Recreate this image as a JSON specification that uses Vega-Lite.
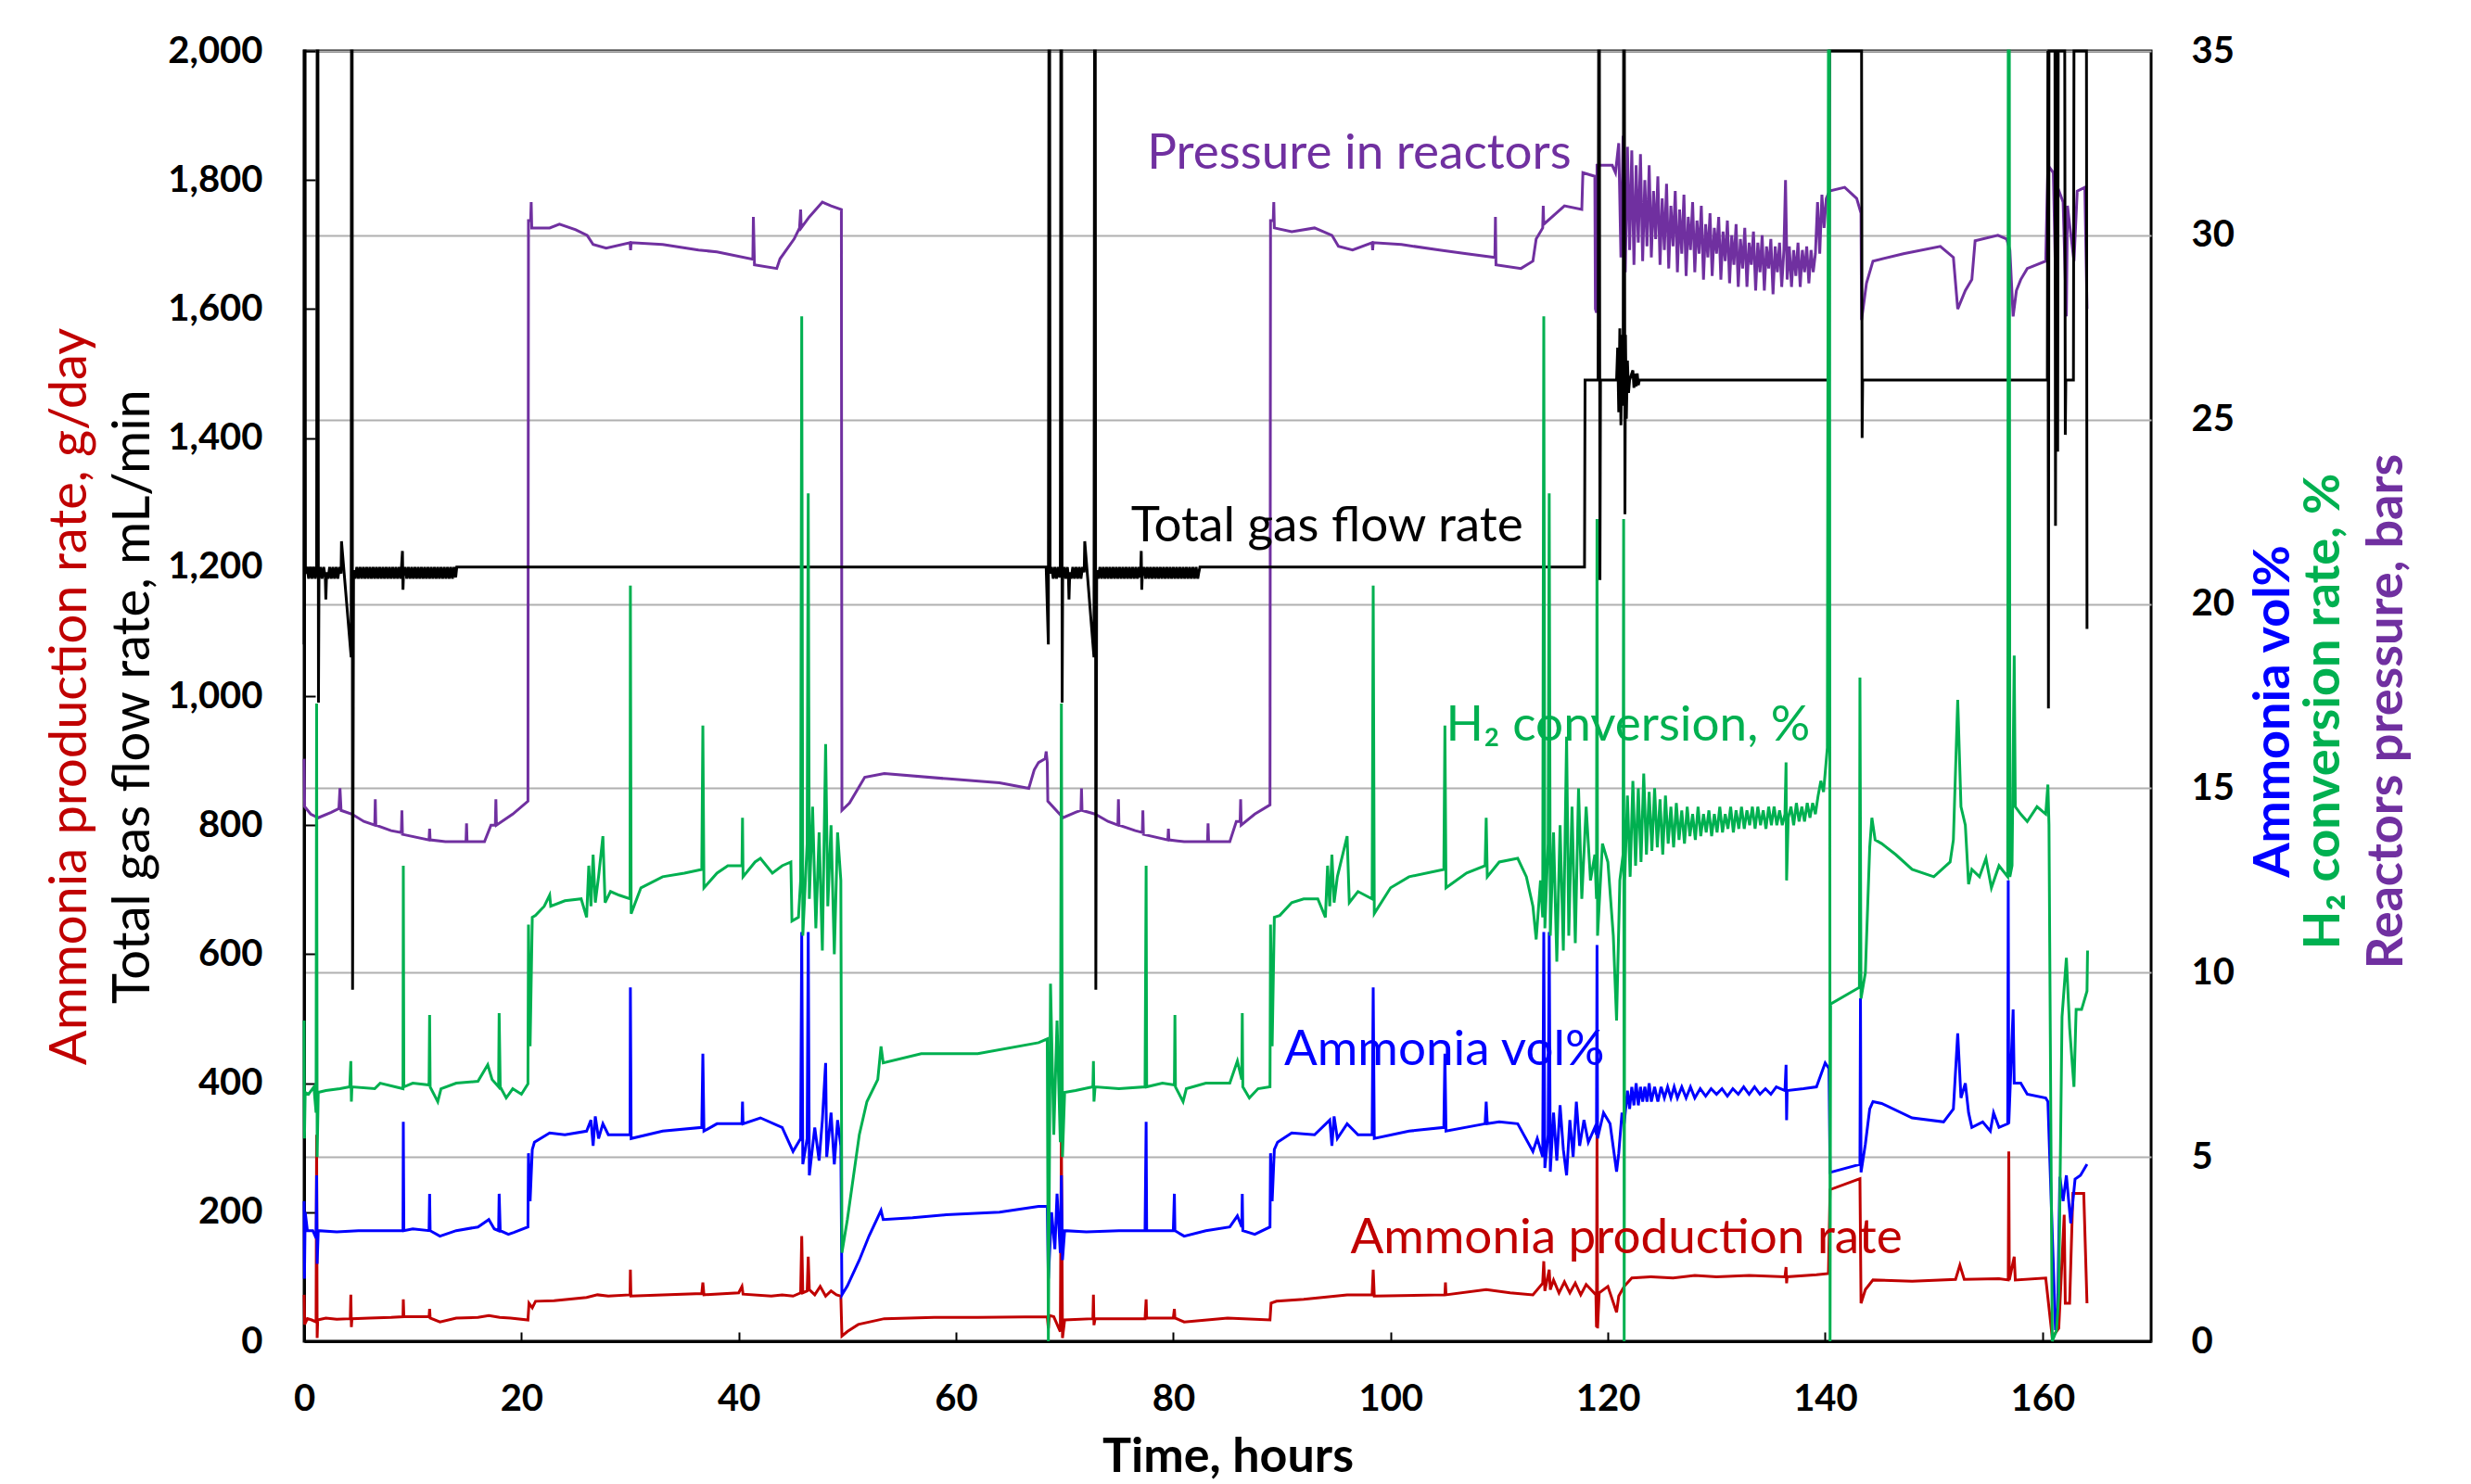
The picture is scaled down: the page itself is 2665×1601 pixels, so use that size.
{
"$schema":"https://vega.github.io/schema/vega-lite/v6.json",
"width":1992,"height":1392,
"autosize":{"type":"none"},
"padding":{"left":328,"top":55,"right":345,"bottom":154},
"background":"white",
"config":{"view":{"stroke":"black","strokeWidth":3},
"axis":{"labelFont":"Lato","labelFontWeight":"bold","labelFontSize":40,"labelColor":"black","labelFlush":false,"titleFont":"Lato","titleFontSize":56,"titleFontWeight":"normal","domainColor":"black","tickColor":"black","grid":false}},
"datasets":{
"flow":[{"t":0,"y":1080},{"t":0.03,"y":2000},{"t":0.09,"y":2000},{"t":0.12,"y":1190},{"t":0.27,"y":1200},{"t":0.42,"y":1182},{"t":0.57,"y":1200},{"t":0.72,"y":1182},{"t":0.87,"y":1200},{"t":1.02,"y":1182},{"t":1.15,"y":1195},{"t":1.2,"y":2000},{"t":1.27,"y":2000},{"t":1.32,"y":990},{"t":1.37,"y":1190},{"t":1.5,"y":1200},{"t":1.65,"y":1182},{"t":1.8,"y":1200},{"t":1.95,"y":1184},{"t":2.0,"y":1150},{"t":2.07,"y":1192},{"t":2.2,"y":1182},{"t":2.35,"y":1200},{"t":2.5,"y":1182},{"t":2.65,"y":1200},{"t":2.8,"y":1182},{"t":2.95,"y":1200},{"t":3.1,"y":1182},{"t":3.25,"y":1200},{"t":3.4,"y":1190},{"t":3.44,"y":1240},{"t":4.33,"y":1060},{"t":4.36,"y":2000},{"t":4.42,"y":2000},{"t":4.46,"y":545},{"t":4.55,"y":1195},{"t":4.7,"y":1182},{"t":4.85,"y":1200},{"t":5.0,"y":1182},{"t":5.15,"y":1200},{"t":5.3,"y":1182},{"t":5.45,"y":1200},{"t":5.6,"y":1182},{"t":5.75,"y":1200},{"t":5.9,"y":1182},{"t":6.05,"y":1200},{"t":6.2,"y":1182},{"t":6.35,"y":1200},{"t":6.5,"y":1182},{"t":6.65,"y":1200},{"t":6.8,"y":1182},{"t":6.95,"y":1200},{"t":7.1,"y":1182},{"t":7.25,"y":1200},{"t":7.4,"y":1182},{"t":7.55,"y":1200},{"t":7.7,"y":1182},{"t":7.85,"y":1200},{"t":8.0,"y":1182},{"t":8.15,"y":1200},{"t":8.3,"y":1182},{"t":8.45,"y":1200},{"t":8.6,"y":1182},{"t":8.75,"y":1200},{"t":8.9,"y":1182},{"t":9.05,"y":1225},{"t":9.1,"y":1165},{"t":9.15,"y":1192},{"t":9.3,"y":1200},{"t":9.45,"y":1182},{"t":9.6,"y":1200},{"t":9.75,"y":1182},{"t":9.9,"y":1200},{"t":10.05,"y":1182},{"t":10.2,"y":1200},{"t":10.35,"y":1182},{"t":10.5,"y":1200},{"t":10.65,"y":1182},{"t":10.8,"y":1200},{"t":10.95,"y":1182},{"t":11.1,"y":1200},{"t":11.25,"y":1182},{"t":11.4,"y":1200},{"t":11.55,"y":1182},{"t":11.7,"y":1200},{"t":11.85,"y":1182},{"t":12.0,"y":1200},{"t":12.15,"y":1182},{"t":12.3,"y":1200},{"t":12.45,"y":1182},{"t":12.6,"y":1200},{"t":12.75,"y":1182},{"t":12.9,"y":1200},{"t":13.05,"y":1182},{"t":13.2,"y":1200},{"t":13.35,"y":1182},{"t":13.5,"y":1200},{"t":13.65,"y":1182},{"t":13.8,"y":1200},{"t":13.95,"y":1184},{"t":14.05,"y":1200},{"t":68.3,"y":1200},{"t":68.5,"y":1080},{"t":68.55,"y":2000},{"t":68.62,"y":2000},{"t":68.66,"y":1190},{"t":68.8,"y":1200},{"t":68.95,"y":1182},{"t":69.1,"y":1200},{"t":69.25,"y":1182},{"t":69.4,"y":1200},{"t":69.55,"y":1184},{"t":69.6,"y":1195},{"t":69.65,"y":2000},{"t":69.72,"y":2000},{"t":69.77,"y":990},{"t":69.82,"y":1190},{"t":69.95,"y":1200},{"t":70.1,"y":1182},{"t":70.25,"y":1200},{"t":70.35,"y":1184},{"t":70.4,"y":1150},{"t":70.47,"y":1192},{"t":70.6,"y":1182},{"t":70.75,"y":1200},{"t":70.9,"y":1182},{"t":71.05,"y":1200},{"t":71.2,"y":1182},{"t":71.35,"y":1200},{"t":71.5,"y":1182},{"t":71.65,"y":1200},{"t":71.8,"y":1192},{"t":71.85,"y":1240},{"t":72.7,"y":1060},{"t":72.75,"y":2000},{"t":72.82,"y":2000},{"t":72.87,"y":545},{"t":72.95,"y":1195},{"t":73.1,"y":1182},{"t":73.25,"y":1200},{"t":73.4,"y":1182},{"t":73.55,"y":1200},{"t":73.7,"y":1182},{"t":73.85,"y":1200},{"t":74.0,"y":1182},{"t":74.15,"y":1200},{"t":74.3,"y":1182},{"t":74.45,"y":1200},{"t":74.6,"y":1182},{"t":74.75,"y":1200},{"t":74.9,"y":1182},{"t":75.05,"y":1200},{"t":75.2,"y":1182},{"t":75.35,"y":1200},{"t":75.5,"y":1182},{"t":75.65,"y":1200},{"t":75.8,"y":1182},{"t":75.95,"y":1200},{"t":76.1,"y":1182},{"t":76.25,"y":1200},{"t":76.4,"y":1182},{"t":76.55,"y":1200},{"t":76.7,"y":1182},{"t":76.85,"y":1200},{"t":76.98,"y":1184},{"t":77.05,"y":1225},{"t":77.1,"y":1165},{"t":77.15,"y":1192},{"t":77.3,"y":1200},{"t":77.45,"y":1182},{"t":77.6,"y":1200},{"t":77.75,"y":1182},{"t":77.9,"y":1200},{"t":78.05,"y":1182},{"t":78.2,"y":1200},{"t":78.35,"y":1182},{"t":78.5,"y":1200},{"t":78.65,"y":1182},{"t":78.8,"y":1200},{"t":78.95,"y":1182},{"t":79.1,"y":1200},{"t":79.25,"y":1182},{"t":79.4,"y":1200},{"t":79.55,"y":1182},{"t":79.7,"y":1200},{"t":79.85,"y":1182},{"t":80.0,"y":1200},{"t":80.15,"y":1182},{"t":80.3,"y":1200},{"t":80.45,"y":1182},{"t":80.6,"y":1200},{"t":80.75,"y":1182},{"t":80.9,"y":1200},{"t":81.05,"y":1182},{"t":81.2,"y":1200},{"t":81.35,"y":1182},{"t":81.5,"y":1200},{"t":81.65,"y":1182},{"t":81.8,"y":1200},{"t":81.95,"y":1182},{"t":82.1,"y":1200},{"t":82.25,"y":1182},{"t":82.35,"y":1192},{"t":82.45,"y":1200},{"t":117.85,"y":1200},{"t":117.9,"y":1490},{"t":119.1,"y":1490},{"t":119.15,"y":2000},{"t":119.22,"y":2000},{"t":119.27,"y":1180},{"t":119.32,"y":1490},{"t":120.8,"y":1490},{"t":120.9,"y":1540},{"t":121.0,"y":1440},{"t":121.1,"y":1570},{"t":121.2,"y":1420},{"t":121.3,"y":1560},{"t":121.4,"y":1450},{"t":121.45,"y":2000},{"t":121.52,"y":2000},{"t":121.57,"y":1282},{"t":121.62,"y":1560},{"t":121.7,"y":1430},{"t":121.8,"y":1520},{"t":121.9,"y":1470},{"t":122.0,"y":1490},{"t":122.3,"y":1505},{"t":122.4,"y":1478},{"t":122.5,"y":1500},{"t":122.6,"y":1480},{"t":122.7,"y":1500},{"t":122.8,"y":1482},{"t":122.9,"y":1490},{"t":140.35,"y":1490},{"t":140.4,"y":2000},{"t":143.35,"y":2000},{"t":143.4,"y":1400},{"t":143.45,"y":1490},{"t":160.45,"y":1490},{"t":160.5,"y":2000},{"t":160.55,"y":981},{"t":160.6,"y":2000},{"t":161.15,"y":2000},{"t":161.2,"y":1264},{"t":161.25,"y":2000},{"t":161.35,"y":2000},{"t":161.4,"y":1379},{"t":161.45,"y":2000},{"t":162.05,"y":2000},{"t":162.1,"y":1405},{"t":162.15,"y":1490},{"t":162.85,"y":1490},{"t":162.9,"y":2000},{"t":164.05,"y":2000},{"t":164.1,"y":1104}],
"prod":[{"t":0,"y":72},{"t":0.05,"y":26},{"t":0.3,"y":35},{"t":0.7,"y":33},{"t":1.1,"y":30},{"t":1.15,"y":320},{"t":1.2,"y":5},{"t":1.25,"y":33},{"t":2,"y":36},{"t":3,"y":34},{"t":4.25,"y":35},{"t":4.3,"y":72},{"t":4.35,"y":22},{"t":4.4,"y":35},{"t":6,"y":36},{"t":8,"y":37},{"t":9.1,"y":38},{"t":9.13,"y":65},{"t":9.18,"y":38},{"t":11.5,"y":38},{"t":11.55,"y":50},{"t":11.6,"y":36},{"t":12.5,"y":30},{"t":14,"y":36},{"t":16,"y":37},{"t":17,"y":40},{"t":18,"y":37},{"t":19,"y":36},{"t":20.6,"y":33},{"t":20.7,"y":59},{"t":21,"y":52},{"t":21.3,"y":62},{"t":23,"y":63},{"t":26,"y":68},{"t":27,"y":72},{"t":28,"y":70},{"t":30,"y":72},{"t":30.03,"y":111},{"t":30.08,"y":70},{"t":33,"y":72},{"t":36.6,"y":74},{"t":36.7,"y":91},{"t":36.8,"y":72},{"t":40,"y":75},{"t":40.3,"y":85},{"t":40.4,"y":73},{"t":43,"y":70},{"t":44,"y":72},{"t":45,"y":70},{"t":45.7,"y":75},{"t":45.8,"y":163},{"t":45.9,"y":75},{"t":46.3,"y":78},{"t":46.4,"y":131},{"t":46.5,"y":80},{"t":47,"y":72},{"t":47.5,"y":85},{"t":48,"y":70},{"t":48.5,"y":78},{"t":49,"y":72},{"t":49.4,"y":70},{"t":49.5,"y":8},{"t":50,"y":15},{"t":51,"y":26},{"t":53.4,"y":35},{"t":58,"y":37},{"t":62,"y":37},{"t":68.4,"y":38},{"t":68.5,"y":20},{"t":68.6,"y":40},{"t":69,"y":38},{"t":69.6,"y":15},{"t":69.7,"y":320},{"t":69.8,"y":5},{"t":70,"y":33},{"t":72.6,"y":35},{"t":72.65,"y":72},{"t":72.7,"y":25},{"t":72.8,"y":35},{"t":77.4,"y":35},{"t":77.5,"y":65},{"t":77.55,"y":36},{"t":80,"y":36},{"t":80.1,"y":50},{"t":80.15,"y":36},{"t":81,"y":30},{"t":85,"y":36},{"t":88.9,"y":33},{"t":89.0,"y":59},{"t":89.5,"y":62},{"t":92,"y":65},{"t":96,"y":72},{"t":98.3,"y":72},{"t":98.4,"y":111},{"t":98.5,"y":70},{"t":105,"y":72},{"t":105.05,"y":91},{"t":105.1,"y":72},{"t":108.8,"y":80},{"t":111,"y":75},{"t":113.1,"y":72},{"t":114,"y":90},{"t":114.1,"y":124},{"t":114.2,"y":78},{"t":114.6,"y":111},{"t":114.7,"y":80},{"t":115,"y":95},{"t":115.5,"y":75},{"t":116,"y":92},{"t":116.5,"y":75},{"t":117,"y":90},{"t":117.5,"y":72},{"t":118,"y":88},{"t":118.9,"y":72},{"t":118.95,"y":22},{"t":119.0,"y":320},{"t":119.05,"y":20},{"t":119.2,"y":75},{"t":120,"y":85},{"t":120.8,"y":45},{"t":121,"y":70},{"t":121.5,"y":85},{"t":122.2,"y":98},{"t":124,"y":100},{"t":126,"y":98},{"t":128,"y":102},{"t":130,"y":100},{"t":133,"y":102},{"t":136.3,"y":100},{"t":136.4,"y":115},{"t":136.45,"y":90},{"t":136.5,"y":100},{"t":139.2,"y":103},{"t":140.3,"y":105},{"t":140.45,"y":235},{"t":143.2,"y":252},{"t":143.3,"y":59},{"t":143.7,"y":80},{"t":144.4,"y":95},{"t":148,"y":93},{"t":152,"y":96},{"t":152.4,"y":118},{"t":152.8,"y":96},{"t":156,"y":97},{"t":156.85,"y":95},{"t":156.9,"y":294},{"t":156.95,"y":95},{"t":157.4,"y":131},{"t":157.5,"y":95},{"t":160.3,"y":98},{"t":160.9,"y":6},{"t":161.5,"y":20},{"t":162,"y":196},{"t":162.1,"y":59},{"t":162.5,"y":59},{"t":162.8,"y":229},{"t":163.8,"y":229},{"t":164.1,"y":59}],
"vol":[{"t":0,"y":3.8},{"t":0.03,"y":1.7},{"t":0.1,"y":3.5},{"t":0.3,"y":3.0},{"t":0.8,"y":3.0},{"t":1.1,"y":2.8},{"t":1.15,"y":4.5},{"t":1.2,"y":2.1},{"t":1.3,"y":3.0},{"t":3,"y":2.97},{"t":5,"y":3.0},{"t":7,"y":3.0},{"t":9.1,"y":3.0},{"t":9.13,"y":5.95},{"t":9.18,"y":3.0},{"t":10,"y":3.05},{"t":11.5,"y":3.0},{"t":11.55,"y":4.0},{"t":11.6,"y":3.0},{"t":12.5,"y":2.85},{"t":14,"y":3.0},{"t":16,"y":3.1},{"t":17,"y":3.3},{"t":17.5,"y":3.05},{"t":17.9,"y":3.0},{"t":17.95,"y":4.0},{"t":18.05,"y":3.0},{"t":18.8,"y":2.9},{"t":19.3,"y":2.95},{"t":20.6,"y":3.1},{"t":20.65,"y":5.1},{"t":20.8,"y":3.8},{"t":21,"y":5.2},{"t":21.2,"y":5.4},{"t":22.6,"y":5.65},{"t":24,"y":5.6},{"t":26,"y":5.7},{"t":26.4,"y":6.0},{"t":26.6,"y":5.3},{"t":26.8,"y":6.1},{"t":27.1,"y":5.5},{"t":27.5,"y":5.9},{"t":28,"y":5.6},{"t":30,"y":5.6},{"t":30.03,"y":9.6},{"t":30.1,"y":5.5},{"t":33,"y":5.7},{"t":36.6,"y":5.8},{"t":36.7,"y":7.8},{"t":36.8,"y":5.7},{"t":38,"y":5.9},{"t":40.3,"y":5.9},{"t":40.35,"y":6.5},{"t":40.4,"y":5.9},{"t":42,"y":6.06},{"t":44,"y":5.8},{"t":45,"y":5.15},{"t":45.7,"y":5.5},{"t":45.8,"y":11.1},{"t":45.9,"y":4.8},{"t":46.3,"y":5.5},{"t":46.4,"y":11.1},{"t":46.5,"y":4.5},{"t":47,"y":5.8},{"t":47.4,"y":4.9},{"t":47.7,"y":6.0},{"t":48,"y":7.55},{"t":48.1,"y":5.0},{"t":48.5,"y":6.2},{"t":48.8,"y":4.8},{"t":49.1,"y":6.0},{"t":49.4,"y":5.3},{"t":49.5,"y":1.26},{"t":50,"y":1.5},{"t":51.1,"y":2.2},{"t":52,"y":2.86},{"t":53.1,"y":3.55},{"t":53.3,"y":3.3},{"t":56,"y":3.35},{"t":59.1,"y":3.43},{"t":64,"y":3.5},{"t":67.6,"y":3.66},{"t":68.4,"y":3.66},{"t":68.5,"y":1.7},{"t":68.8,"y":3.5},{"t":69.1,"y":2.5},{"t":69.3,"y":4.0},{"t":69.6,"y":2.4},{"t":69.7,"y":4.5},{"t":69.8,"y":2.2},{"t":70,"y":3.0},{"t":72,"y":2.97},{"t":75,"y":3.0},{"t":77.4,"y":3.0},{"t":77.5,"y":5.95},{"t":77.55,"y":3.0},{"t":80,"y":3.0},{"t":80.1,"y":4.0},{"t":80.15,"y":3.0},{"t":81,"y":2.85},{"t":83,"y":3.0},{"t":85.2,"y":3.1},{"t":85.9,"y":3.4},{"t":86.3,"y":3.1},{"t":86.35,"y":4.0},{"t":86.4,"y":3.0},{"t":87.5,"y":2.9},{"t":88.9,"y":3.1},{"t":88.95,"y":5.1},{"t":89.1,"y":3.8},{"t":89.3,"y":5.2},{"t":89.6,"y":5.4},{"t":90.9,"y":5.65},{"t":93,"y":5.6},{"t":94.4,"y":6.0},{"t":94.6,"y":5.3},{"t":94.8,"y":6.1},{"t":95.1,"y":5.5},{"t":96,"y":5.9},{"t":97,"y":5.6},{"t":98.3,"y":5.6},{"t":98.4,"y":9.6},{"t":98.5,"y":5.5},{"t":101.7,"y":5.7},{"t":104.9,"y":5.8},{"t":105,"y":7.8},{"t":105.1,"y":5.7},{"t":108.7,"y":5.9},{"t":108.8,"y":6.5},{"t":108.9,"y":5.9},{"t":110,"y":5.95},{"t":111.7,"y":5.9},{"t":113.1,"y":5.15},{"t":113.5,"y":5.5},{"t":114.0,"y":5.0},{"t":114.1,"y":11.1},{"t":114.2,"y":4.7},{"t":114.5,"y":5.6},{"t":114.6,"y":11.1},{"t":114.7,"y":4.6},{"t":115,"y":6.2},{"t":115.3,"y":4.9},{"t":115.6,"y":6.4},{"t":115.9,"y":5.2},{"t":116.2,"y":4.5},{"t":116.5,"y":6.0},{"t":116.8,"y":5.0},{"t":117.1,"y":6.5},{"t":117.4,"y":5.3},{"t":117.8,"y":6.0},{"t":118.2,"y":5.4},{"t":118.8,"y":5.8},{"t":118.95,"y":5.6},{"t":119.0,"y":10.75},{"t":119.05,"y":5.5},{"t":119.6,"y":6.2},{"t":120.2,"y":5.9},{"t":120.8,"y":4.6},{"t":121.0,"y":5.1},{"t":121.3,"y":6.2},{"t":121.5,"y":5.9},{"t":121.8,"y":6.8},{"t":122.0,"y":6.3},{"t":122.2,"y":6.9},{"t":122.4,"y":6.4},{"t":122.6,"y":7.0},{"t":122.8,"y":6.4},{"t":123.0,"y":6.9},{"t":123.2,"y":6.5},{"t":123.4,"y":6.9},{"t":123.6,"y":6.5},{"t":123.8,"y":7.0},{"t":124.0,"y":6.5},{"t":124.3,"y":6.9},{"t":124.6,"y":6.5},{"t":124.9,"y":6.9},{"t":125.2,"y":6.6},{"t":125.5,"y":6.9},{"t":125.8,"y":6.6},{"t":126.1,"y":6.9},{"t":126.4,"y":6.6},{"t":126.8,"y":6.9},{"t":127.2,"y":6.6},{"t":127.6,"y":6.9},{"t":128.0,"y":6.6},{"t":128.5,"y":6.85},{"t":129,"y":6.65},{"t":129.5,"y":6.85},{"t":130,"y":6.7},{"t":130.5,"y":6.85},{"t":131,"y":6.65},{"t":131.5,"y":6.85},{"t":132,"y":6.7},{"t":132.5,"y":6.9},{"t":133,"y":6.7},{"t":133.5,"y":6.9},{"t":134,"y":6.7},{"t":134.5,"y":6.85},{"t":135,"y":6.7},{"t":135.5,"y":6.9},{"t":136.3,"y":6.8},{"t":136.4,"y":7.5},{"t":136.45,"y":6.0},{"t":136.5,"y":6.8},{"t":138,"y":6.85},{"t":139.2,"y":6.9},{"t":140,"y":7.55},{"t":140.35,"y":7.4},{"t":140.45,"y":4.58},{"t":143.2,"y":4.8},{"t":143.25,"y":9.3},{"t":143.3,"y":4.58},{"t":143.7,"y":5.35},{"t":144.1,"y":6.3},{"t":144.4,"y":6.5},{"t":145.2,"y":6.45},{"t":148,"y":6.06},{"t":150.9,"y":5.95},{"t":151.8,"y":6.3},{"t":152.2,"y":8.35},{"t":152.5,"y":6.6},{"t":152.9,"y":7.0},{"t":153.2,"y":6.2},{"t":153.5,"y":5.8},{"t":154.5,"y":5.95},{"t":155.2,"y":5.7},{"t":155.5,"y":6.2},{"t":156,"y":5.8},{"t":156.8,"y":5.9},{"t":156.85,"y":12.5},{"t":156.9,"y":5.9},{"t":157.3,"y":9.0},{"t":157.4,"y":7.0},{"t":158,"y":7.0},{"t":158.6,"y":6.7},{"t":160.3,"y":6.6},{"t":160.5,"y":6.5},{"t":161.2,"y":0.3},{"t":161.4,"y":0.9},{"t":161.6,"y":4.46},{"t":161.9,"y":3.8},{"t":162.2,"y":4.5},{"t":162.6,"y":3.2},{"t":163,"y":4.4},{"t":163.5,"y":4.5},{"t":164.1,"y":4.8}],
"conv":[{"t":0,"y":8.7},{"t":0.03,"y":5.5},{"t":0.1,"y":6.75},{"t":0.4,"y":6.7},{"t":0.9,"y":6.9},{"t":1.1,"y":6.2},{"t":1.15,"y":17.3},{"t":1.2,"y":5.0},{"t":1.3,"y":6.75},{"t":2,"y":6.8},{"t":3.3,"y":6.85},{"t":4.2,"y":6.9},{"t":4.3,"y":7.6},{"t":4.35,"y":6.5},{"t":4.4,"y":6.9},{"t":6.5,"y":6.85},{"t":7,"y":7.0},{"t":9.1,"y":6.85},{"t":9.13,"y":12.9},{"t":9.18,"y":6.9},{"t":10,"y":7.0},{"t":11.5,"y":6.95},{"t":11.55,"y":8.85},{"t":11.6,"y":6.9},{"t":12.3,"y":6.5},{"t":12.6,"y":6.85},{"t":14,"y":7.0},{"t":16,"y":7.05},{"t":16.9,"y":7.5},{"t":17.3,"y":7.1},{"t":17.9,"y":6.9},{"t":17.95,"y":8.9},{"t":18.05,"y":6.9},{"t":18.6,"y":6.6},{"t":19.2,"y":6.85},{"t":20.0,"y":6.7},{"t":20.6,"y":6.98},{"t":20.65,"y":11.3},{"t":20.8,"y":8.0},{"t":21.0,"y":11.5},{"t":21.3,"y":11.55},{"t":22.1,"y":11.8},{"t":22.6,"y":12.1},{"t":22.7,"y":11.8},{"t":24,"y":11.95},{"t":25.5,"y":12.0},{"t":26.0,"y":11.5},{"t":26.2,"y":12.9},{"t":26.4,"y":11.8},{"t":26.6,"y":13.2},{"t":26.8,"y":11.9},{"t":27.1,"y":12.6},{"t":27.5,"y":13.7},{"t":27.7,"y":11.9},{"t":28.2,"y":12.2},{"t":29,"y":12.1},{"t":30,"y":12.0},{"t":30.03,"y":20.5},{"t":30.1,"y":11.6},{"t":31,"y":12.3},{"t":33,"y":12.6},{"t":35,"y":12.7},{"t":36.6,"y":12.8},{"t":36.7,"y":16.7},{"t":36.8,"y":12.3},{"t":38,"y":12.7},{"t":39,"y":12.9},{"t":40.3,"y":12.9},{"t":40.35,"y":14.2},{"t":40.4,"y":12.6},{"t":41.5,"y":13.0},{"t":42,"y":13.1},{"t":43.1,"y":12.7},{"t":44.0,"y":12.9},{"t":44.8,"y":13.0},{"t":44.9,"y":11.4},{"t":45.5,"y":11.5},{"t":45.7,"y":12.5},{"t":45.8,"y":27.8},{"t":45.9,"y":11.0},{"t":46.3,"y":13.5},{"t":46.4,"y":23.0},{"t":46.5,"y":12.0},{"t":46.8,"y":14.5},{"t":47.1,"y":11.2},{"t":47.4,"y":13.8},{"t":47.7,"y":10.6},{"t":48.0,"y":16.2},{"t":48.2,"y":11.8},{"t":48.5,"y":14.0},{"t":48.8,"y":10.5},{"t":49.1,"y":13.8},{"t":49.4,"y":12.5},{"t":49.5,"y":2.4},{"t":50.0,"y":3.3},{"t":51.1,"y":5.6},{"t":51.8,"y":6.5},{"t":52.8,"y":7.1},{"t":53.1,"y":8.0},{"t":53.3,"y":7.55},{"t":56.8,"y":7.8},{"t":62,"y":7.8},{"t":67.6,"y":8.1},{"t":68.4,"y":8.2},{"t":68.5,"y":0.0},{"t":68.7,"y":9.7},{"t":69.0,"y":5.6},{"t":69.3,"y":8.7},{"t":69.6,"y":5.4},{"t":69.7,"y":17.3},{"t":69.8,"y":5.0},{"t":70,"y":6.75},{"t":71,"y":6.8},{"t":72.6,"y":6.9},{"t":72.65,"y":7.6},{"t":72.7,"y":6.5},{"t":72.8,"y":6.9},{"t":75,"y":6.85},{"t":77.4,"y":6.9},{"t":77.5,"y":12.9},{"t":77.55,"y":6.9},{"t":79,"y":7.0},{"t":80.1,"y":6.95},{"t":80.15,"y":8.85},{"t":80.2,"y":6.9},{"t":80.9,"y":6.5},{"t":81.2,"y":6.85},{"t":83,"y":7.0},{"t":85.2,"y":7.0},{"t":85.9,"y":7.6},{"t":86.3,"y":7.1},{"t":86.35,"y":8.9},{"t":86.4,"y":6.9},{"t":87,"y":6.6},{"t":87.8,"y":6.85},{"t":88.9,"y":6.9},{"t":88.95,"y":11.3},{"t":89.1,"y":8.0},{"t":89.3,"y":11.5},{"t":89.8,"y":11.55},{"t":90.9,"y":11.9},{"t":92,"y":12.0},{"t":93.3,"y":12.0},{"t":94.0,"y":11.5},{"t":94.2,"y":12.9},{"t":94.4,"y":11.8},{"t":94.6,"y":13.2},{"t":94.8,"y":11.9},{"t":95.1,"y":12.6},{"t":96,"y":13.7},{"t":96.2,"y":11.9},{"t":97,"y":12.2},{"t":98.3,"y":12.0},{"t":98.4,"y":20.5},{"t":98.5,"y":11.6},{"t":100,"y":12.3},{"t":101.7,"y":12.6},{"t":104.9,"y":12.8},{"t":105,"y":16.7},{"t":105.1,"y":12.3},{"t":107,"y":12.7},{"t":108.7,"y":12.9},{"t":108.8,"y":14.2},{"t":108.9,"y":12.6},{"t":110,"y":13.0},{"t":111.7,"y":13.1},{"t":112.5,"y":12.6},{"t":113.1,"y":11.8},{"t":113.4,"y":10.9},{"t":113.8,"y":12.5},{"t":114.0,"y":11.5},{"t":114.1,"y":27.8},{"t":114.2,"y":11.2},{"t":114.5,"y":13.5},{"t":114.6,"y":23.0},{"t":114.7,"y":11.0},{"t":115,"y":13.8},{"t":115.3,"y":10.3},{"t":115.6,"y":14.0},{"t":115.9,"y":10.6},{"t":116.2,"y":16.4},{"t":116.4,"y":11.0},{"t":116.7,"y":14.5},{"t":117.0,"y":10.8},{"t":117.3,"y":15.0},{"t":117.6,"y":12.0},{"t":118.0,"y":14.5},{"t":118.4,"y":12.5},{"t":118.8,"y":13.2},{"t":118.95,"y":12.0},{"t":119.0,"y":22.3},{"t":119.05,"y":11.0},{"t":119.5,"y":13.5},{"t":120,"y":13.0},{"t":120.5,"y":11.0},{"t":120.8,"y":8.7},{"t":121.1,"y":12.5},{"t":121.4,"y":13.2},{"t":121.45,"y":22.3},{"t":121.5,"y":0.0},{"t":121.55,"y":12.5},{"t":121.8,"y":14.8},{"t":122.05,"y":12.6},{"t":122.3,"y":15.2},{"t":122.55,"y":12.9},{"t":122.8,"y":15.0},{"t":123.05,"y":13.0},{"t":123.3,"y":15.4},{"t":123.55,"y":13.2},{"t":123.8,"y":14.9},{"t":124.05,"y":13.3},{"t":124.3,"y":15.0},{"t":124.55,"y":13.4},{"t":124.8,"y":14.7},{"t":125.05,"y":13.2},{"t":125.3,"y":14.8},{"t":125.55,"y":13.5},{"t":125.8,"y":14.5},{"t":126.05,"y":13.4},{"t":126.3,"y":14.6},{"t":126.55,"y":13.6},{"t":126.8,"y":14.4},{"t":127.05,"y":13.5},{"t":127.3,"y":14.5},{"t":127.55,"y":13.7},{"t":127.8,"y":14.3},{"t":128.05,"y":13.6},{"t":128.3,"y":14.5},{"t":128.55,"y":13.7},{"t":128.8,"y":14.3},{"t":129.05,"y":13.8},{"t":129.3,"y":14.4},{"t":129.55,"y":13.7},{"t":129.8,"y":14.3},{"t":130.05,"y":13.8},{"t":130.3,"y":14.5},{"t":130.55,"y":13.8},{"t":130.8,"y":14.3},{"t":131.05,"y":13.9},{"t":131.3,"y":14.5},{"t":131.55,"y":13.8},{"t":131.8,"y":14.4},{"t":132.05,"y":13.9},{"t":132.3,"y":14.5},{"t":132.55,"y":13.9},{"t":132.8,"y":14.4},{"t":133.05,"y":14.0},{"t":133.3,"y":14.5},{"t":133.55,"y":13.9},{"t":133.8,"y":14.5},{"t":134.05,"y":14.0},{"t":134.3,"y":14.4},{"t":134.55,"y":13.9},{"t":134.8,"y":14.5},{"t":135.05,"y":14.0},{"t":135.3,"y":14.5},{"t":135.55,"y":14.0},{"t":135.8,"y":14.4},{"t":136.05,"y":14.0},{"t":136.3,"y":14.3},{"t":136.4,"y":15.7},{"t":136.45,"y":12.5},{"t":136.6,"y":14.2},{"t":136.85,"y":14.5},{"t":137.1,"y":14.0},{"t":137.35,"y":14.6},{"t":137.6,"y":14.1},{"t":137.85,"y":14.5},{"t":138.1,"y":14.1},{"t":138.35,"y":14.6},{"t":138.6,"y":14.2},{"t":138.85,"y":14.6},{"t":139.1,"y":14.3},{"t":139.35,"y":14.8},{"t":139.6,"y":15.2},{"t":139.85,"y":14.9},{"t":140.2,"y":16.1},{"t":140.3,"y":35},{"t":140.4,"y":35},{"t":140.45,"y":0},{"t":140.5,"y":9.15},{"t":143.15,"y":9.6},{"t":143.2,"y":18.0},{"t":143.3,"y":9.3},{"t":143.7,"y":10.0},{"t":144.1,"y":13.4},{"t":144.3,"y":14.2},{"t":144.6,"y":13.6},{"t":145.2,"y":13.5},{"t":146.5,"y":13.2},{"t":148,"y":12.8},{"t":150,"y":12.6},{"t":151.5,"y":13.0},{"t":151.8,"y":13.6},{"t":152.2,"y":17.4},{"t":152.5,"y":14.5},{"t":152.9,"y":14.0},{"t":153.2,"y":12.4},{"t":153.5,"y":12.8},{"t":154.2,"y":12.6},{"t":154.8,"y":13.1},{"t":155.3,"y":12.3},{"t":156,"y":12.9},{"t":156.8,"y":12.6},{"t":156.85,"y":35},{"t":156.95,"y":35},{"t":157.0,"y":12.6},{"t":157.2,"y":12.9},{"t":157.4,"y":18.6},{"t":157.5,"y":14.5},{"t":158,"y":14.3},{"t":158.6,"y":14.1},{"t":159.5,"y":14.5},{"t":160.3,"y":14.3},{"t":160.5,"y":15.1},{"t":160.6,"y":14.0},{"t":160.9,"y":0.0},{"t":161.3,"y":0.3},{"t":161.5,"y":1.26},{"t":161.8,"y":8.8},{"t":162.2,"y":10.4},{"t":162.5,"y":8.5},{"t":162.9,"y":6.9},{"t":163.1,"y":9.0},{"t":163.6,"y":9.0},{"t":164.1,"y":9.5},{"t":164.15,"y":10.6}],
"pres":[{"t":0,"y":15.8},{"t":0.05,"y":14.5},{"t":0.6,"y":14.3},{"t":1.3,"y":14.2},{"t":2.5,"y":14.35},{"t":3.2,"y":14.45},{"t":3.3,"y":15.0},{"t":3.4,"y":14.4},{"t":4.4,"y":14.3},{"t":5.5,"y":14.1},{"t":6.5,"y":14.0},{"t":6.55,"y":14.7},{"t":6.6,"y":14.0},{"t":8,"y":13.85},{"t":8.95,"y":13.8},{"t":9.0,"y":14.4},{"t":9.05,"y":13.75},{"t":11.5,"y":13.6},{"t":11.55,"y":13.9},{"t":11.6,"y":13.6},{"t":13,"y":13.55},{"t":14.9,"y":13.55},{"t":14.95,"y":14.05},{"t":15.0,"y":13.55},{"t":16.6,"y":13.55},{"t":17.2,"y":14.0},{"t":17.6,"y":14.0},{"t":17.65,"y":14.7},{"t":17.7,"y":14.0},{"t":19.2,"y":14.3},{"t":20.6,"y":14.65},{"t":20.65,"y":30.4},{"t":20.85,"y":30.4},{"t":20.9,"y":30.9},{"t":20.95,"y":30.2},{"t":22.6,"y":30.2},{"t":23.5,"y":30.3},{"t":25,"y":30.15},{"t":26.05,"y":30.0},{"t":26.6,"y":29.75},{"t":27.8,"y":29.65},{"t":30.0,"y":29.8},{"t":30.05,"y":29.6},{"t":30.1,"y":29.8},{"t":33,"y":29.75},{"t":36.3,"y":29.6},{"t":38,"y":29.55},{"t":41.3,"y":29.35},{"t":41.35,"y":30.5},{"t":41.45,"y":29.2},{"t":43.5,"y":29.1},{"t":43.8,"y":29.36},{"t":45.1,"y":29.9},{"t":45.6,"y":30.2},{"t":45.7,"y":30.7},{"t":45.75,"y":30.2},{"t":46.5,"y":30.5},{"t":47.7,"y":30.9},{"t":48.5,"y":30.8},{"t":49.45,"y":30.7},{"t":49.5,"y":14.4},{"t":50.2,"y":14.6},{"t":51.6,"y":15.3},{"t":53.4,"y":15.4},{"t":59.1,"y":15.26},{"t":64,"y":15.15},{"t":66.7,"y":15.0},{"t":67.2,"y":15.5},{"t":67.6,"y":15.7},{"t":68.2,"y":15.8},{"t":68.3,"y":16.0},{"t":68.4,"y":15.7},{"t":68.45,"y":14.65},{"t":69.85,"y":14.2},{"t":71.0,"y":14.35},{"t":71.5,"y":14.4},{"t":71.55,"y":15.0},{"t":71.6,"y":14.4},{"t":72.8,"y":14.3},{"t":74,"y":14.1},{"t":74.9,"y":14.0},{"t":74.95,"y":14.7},{"t":75.0,"y":14.0},{"t":76.5,"y":13.85},{"t":77.15,"y":13.8},{"t":77.2,"y":14.4},{"t":77.25,"y":13.75},{"t":79.5,"y":13.6},{"t":79.55,"y":13.9},{"t":79.6,"y":13.6},{"t":81,"y":13.55},{"t":83.15,"y":13.55},{"t":83.2,"y":14.05},{"t":83.25,"y":13.55},{"t":85.2,"y":13.55},{"t":85.8,"y":14.1},{"t":86.15,"y":14.1},{"t":86.2,"y":14.7},{"t":86.25,"y":14.0},{"t":87.5,"y":14.3},{"t":88.9,"y":14.55},{"t":88.95,"y":30.4},{"t":89.2,"y":30.4},{"t":89.25,"y":30.9},{"t":89.3,"y":30.2},{"t":90.9,"y":30.1},{"t":93,"y":30.2},{"t":94.6,"y":30.0},{"t":95.2,"y":29.7},{"t":96.5,"y":29.6},{"t":98.3,"y":29.8},{"t":98.35,"y":29.6},{"t":98.4,"y":29.8},{"t":101,"y":29.75},{"t":104.5,"y":29.6},{"t":107,"y":29.5},{"t":109.6,"y":29.4},{"t":109.65,"y":30.5},{"t":109.7,"y":29.2},{"t":112,"y":29.1},{"t":113.1,"y":29.3},{"t":113.4,"y":29.9},{"t":114.0,"y":30.2},{"t":114.05,"y":30.8},{"t":114.1,"y":30.3},{"t":116,"y":30.8},{"t":117.6,"y":30.7},{"t":117.7,"y":31.7},{"t":118.8,"y":31.6},{"t":118.85,"y":28.0},{"t":118.95,"y":27.9},{"t":119.0,"y":31.9},{"t":119.5,"y":31.9},{"t":120.4,"y":31.9},{"t":120.7,"y":31.7},{"t":121.0,"y":32.5},{"t":121.2,"y":29.4},{"t":121.4,"y":32.7},{"t":121.6,"y":29.0},{"t":121.8,"y":32.4},{"t":122.0,"y":29.6},{"t":122.2,"y":32.3},{"t":122.4,"y":29.2},{"t":122.6,"y":31.9},{"t":122.8,"y":29.8},{"t":123.0,"y":32.2},{"t":123.2,"y":29.3},{"t":123.4,"y":31.5},{"t":123.6,"y":29.7},{"t":123.8,"y":31.9},{"t":124.0,"y":29.4},{"t":124.2,"y":31.2},{"t":124.4,"y":29.9},{"t":124.6,"y":31.6},{"t":124.8,"y":29.2},{"t":125.0,"y":31.0},{"t":125.2,"y":29.6},{"t":125.4,"y":31.4},{"t":125.6,"y":29.1},{"t":125.8,"y":30.8},{"t":126.0,"y":29.7},{"t":126.2,"y":31.2},{"t":126.4,"y":29.0},{"t":126.6,"y":30.7},{"t":126.8,"y":29.5},{"t":127.0,"y":31.1},{"t":127.2,"y":28.9},{"t":127.4,"y":30.5},{"t":127.6,"y":29.6},{"t":127.8,"y":30.9},{"t":128.0,"y":29.0},{"t":128.2,"y":30.4},{"t":128.4,"y":29.5},{"t":128.6,"y":30.8},{"t":128.8,"y":28.8},{"t":129.0,"y":30.3},{"t":129.2,"y":29.4},{"t":129.4,"y":30.6},{"t":129.6,"y":28.9},{"t":129.8,"y":30.2},{"t":130.0,"y":29.5},{"t":130.2,"y":30.5},{"t":130.4,"y":28.8},{"t":130.6,"y":30.1},{"t":130.8,"y":29.3},{"t":131.0,"y":30.4},{"t":131.2,"y":28.7},{"t":131.4,"y":30.0},{"t":131.6,"y":29.2},{"t":131.8,"y":30.3},{"t":132.0,"y":28.6},{"t":132.2,"y":29.9},{"t":132.4,"y":29.1},{"t":132.6,"y":30.2},{"t":132.8,"y":28.6},{"t":133.0,"y":29.8},{"t":133.2,"y":29.2},{"t":133.4,"y":30.1},{"t":133.6,"y":28.5},{"t":133.8,"y":29.8},{"t":134.0,"y":29.0},{"t":134.2,"y":30.0},{"t":134.4,"y":28.5},{"t":134.6,"y":29.7},{"t":134.8,"y":29.1},{"t":135.0,"y":29.9},{"t":135.2,"y":28.4},{"t":135.4,"y":29.7},{"t":135.6,"y":29.0},{"t":135.8,"y":29.8},{"t":136.0,"y":28.6},{"t":136.2,"y":29.6},{"t":136.35,"y":31.5},{"t":136.5,"y":28.8},{"t":136.7,"y":29.7},{"t":136.9,"y":28.6},{"t":137.1,"y":29.6},{"t":137.3,"y":28.9},{"t":137.5,"y":29.8},{"t":137.7,"y":28.6},{"t":137.9,"y":29.6},{"t":138.1,"y":29.0},{"t":138.3,"y":29.7},{"t":138.5,"y":28.7},{"t":138.7,"y":29.6},{"t":138.9,"y":29.0},{"t":139.1,"y":29.5},{"t":139.3,"y":30.9},{"t":139.5,"y":29.5},{"t":139.7,"y":31.1},{"t":139.9,"y":30.2},{"t":140.1,"y":31.0},{"t":140.4,"y":31.2},{"t":141.8,"y":31.3},{"t":142.9,"y":31.0},{"t":143.3,"y":30.6},{"t":143.35,"y":27.7},{"t":143.8,"y":28.7},{"t":144.4,"y":29.3},{"t":147.2,"y":29.5},{"t":150.6,"y":29.7},{"t":151.8,"y":29.4},{"t":152.2,"y":28.0},{"t":152.9,"y":28.5},{"t":153.5,"y":28.8},{"t":153.8,"y":29.85},{"t":155.9,"y":30.0},{"t":156.7,"y":29.9},{"t":157.0,"y":29.6},{"t":157.3,"y":27.8},{"t":157.6,"y":28.5},{"t":158.0,"y":28.8},{"t":158.6,"y":29.1},{"t":160.3,"y":29.3},{"t":160.5,"y":31.9},{"t":161.0,"y":31.7},{"t":161.3,"y":27.5},{"t":161.4,"y":31.3},{"t":161.9,"y":30.9},{"t":162.2,"y":27.8},{"t":162.3,"y":30.8},{"t":162.9,"y":29.3},{"t":163.2,"y":31.2},{"t":163.9,"y":31.3},{"t":164.1,"y":28.0}],
"notes":[{"t":77.6,"y":31.8,"s":"pres","label":"Pressure in reactors"},{"t":76.1,"y":21.7,"s":"flow","label":"Total gas flow rate"},{"t":105.1,"y":16.3,"s":"conv","label":"H₂ conversion, %"},{"t":90.2,"y":7.5,"s":"vol","label":"Ammonia vol%"},{"t":96.3,"y":2.4,"s":"prod","label":"Ammonia production rate"}]
},
"encoding":{"x":{"field":"t","type":"quantitative","scale":{"domain":[0,170],"nice":false},
"axis":{"values":[0,20,40,60,80,100,120,140,160],"tickSize":-10,"tickWidth":2,"labelPadding":52,"domain":true,"domainWidth":3,"title":"Time, hours","titleFontWeight":"bold","titleFontSize":52,"titleBaseline":"alphabetic","titleY":140}}},
"layer":[
{"data":{"name":"prod"},"mark":{"type":"line","color":"#C00000","strokeWidth":3},
"encoding":{"y":{"field":"y","type":"quantitative","scale":{"domain":[0,2000],"nice":false},
"axis":{"orient":"left","labels":false,"ticks":false,"domain":false,"grid":false,"title":"Ammonia production rate, g/day","titleColor":"#C00000","titleAngle":270,"titleBaseline":"alphabetic","titleX":-236}}}},
{"data":{"name":"vol"},"mark":{"type":"line","color":"#0000FF","strokeWidth":3},
"encoding":{"y":{"field":"y","type":"quantitative","scale":{"domain":[0,35],"nice":false},
"axis":{"orient":"right","values":[0,5,10,15,20,25,30,35],"ticks":false,"domain":false,"labelPadding":43,"grid":true,"gridColor":"#b0b0b0","gridWidth":2,"title":"Ammonia vol%","titleColor":"#0000FF","titleFontWeight":"bold","titleFontSize":54,"titleAngle":270,"titleBaseline":"alphabetic","titleX":148,"titleY":712}}}},
{"data":{"name":"pres"},"mark":{"type":"line","color":"#7030A0","strokeWidth":3},
"encoding":{"y":{"field":"y","type":"quantitative","scale":{"domain":[0,35],"nice":false},
"axis":{"orient":"right","labels":false,"ticks":false,"domain":false,"grid":false,"title":"Reactors pressure, bars","titleColor":"#7030A0","titleFontWeight":"bold","titleFontSize":54,"titleAngle":270,"titleBaseline":"alphabetic","titleX":270,"titleY":712}}}},
{"data":{"name":"flow"},"mark":{"type":"line","color":"black","strokeWidth":3},
"encoding":{"y":{"field":"y","type":"quantitative","scale":{"domain":[0,2000],"nice":false},
"axis":{"orient":"left","values":[0,200,400,600,800,1000,1200,1400,1600,1800,2000],"format":",d","tickSize":-12,"tickWidth":2,"labelPadding":57,"domain":true,"domainWidth":3,"grid":false,"title":"Total gas flow rate, mL/min","titleColor":"black","titleAngle":270,"titleBaseline":"alphabetic","titleX":-168}}}},
{"data":{"name":"conv"},"mark":{"type":"line","color":"#00B050","strokeWidth":3},
"encoding":{"y":{"field":"y","type":"quantitative","scale":{"domain":[0,35],"nice":false},
"axis":{"orient":"right","labels":false,"ticks":false,"domain":false,"grid":false,"title":"H₂ conversion rate, %","titleColor":"#00B050","titleFontWeight":"bold","titleFontSize":54,"titleAngle":270,"titleBaseline":"alphabetic","titleX":202,"titleY":712}}}},
{"data":{"name":"notes"},"mark":{"type":"text","align":"left","baseline":"alphabetic","font":"Lato","fontSize":53},
"encoding":{"y":{"field":"y","type":"quantitative","scale":{"domain":[0,35],"nice":false},"axis":null},
"text":{"field":"label"},
"color":{"field":"s","type":"nominal","legend":null,"scale":{"domain":["pres","flow","conv","vol","prod"],"range":["#7030A0","black","#00B050","#0000FF","#C00000"]}}}}
],
"resolve":{"scale":{"y":"independent"}}
}
